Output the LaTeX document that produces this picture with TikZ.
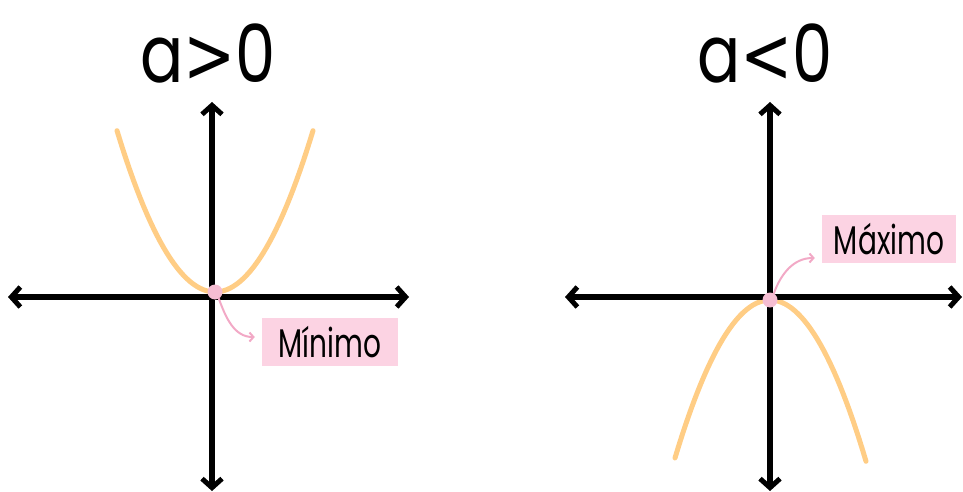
\documentclass[tikz,border=0pt]{standalone}
\usepackage{fontspec}
\usepackage{graphicx}
\setmainfont{Poppins}
\newfontfamily\symfont{DejaVu Sans}
\usetikzlibrary{arrows.meta}
\definecolor{curve}{HTML}{FFCD85}
\definecolor{pinkbox}{HTML}{FCD3E3}
\definecolor{pinkline}{HTML}{F2A9C6}
\definecolor{pinkdot}{HTML}{F5BDD2}
\tikzset{
  axtip/.tip={Straight Barb[length=9pt,width=20pt,line width=5pt]},
  axis/.style={line width=5.5pt, black, axtip-axtip},
  parab/.style={line width=5pt, curve, line cap=round},
  dotnode/.style={circle, fill=pinkdot, minimum size=15pt, inner sep=0pt},
  labelbox/.style={fill=pinkbox, inner sep=0pt, minimum height=48pt, font=\fontsize{40}{40}\selectfont},
  titlenode/.style={font=\fontsize{80}{80}\selectfont, inner sep=0pt},
  pointer/.style={pinkline, line width=2pt, line cap=round, -{Straight Barb[length=4pt,width=9pt,line width=2pt]}}
}
\begin{document}
\begin{tikzpicture}[x=1pt,y=-1pt]
\useasboundingbox (0,0) rectangle (963,492);
% left graph
\coordinate (lxl) at (8,297);
\coordinate (lxr) at (409,297);
\coordinate (lyt) at (212,102);
\coordinate (lyb) at (212,491);
\draw[parab] plot[domain=-98:98, samples=60] ({215+\x},{292-0.0168*\x*\x});
\draw[axis] (lxl) -- (lxr);
\draw[axis] (lyb) -- (lyt);
\node[dotnode] (ldot) at (215,292) {};
\node[titlenode] (ltitle) at (208,54) {\scalebox{0.8}[1]{a{\symfont\fontsize{78}{78}\selectfont >}0}};
\node[labelbox, minimum width=136pt] (lbox) at (330,342) {\scalebox{0.7}[1]{Mínimo}};
\draw[pointer] (ldot.-60) to[out=-70, in=180] ([xshift=-7pt]lbox.west |- 0,337);
% right graph
\coordinate (rxl) at (565,297);
\coordinate (rxr) at (962,297);
\coordinate (ryt) at (770,102);
\coordinate (ryb) at (770,491);
\draw[parab] plot[domain=-95:96, samples=60] ({770+\x},{300+0.0175*\x*\x});
\draw[axis] (rxl) -- (rxr);
\draw[axis] (ryb) -- (ryt);
\node[dotnode] (rdot) at (770,300) {};
\node[titlenode] (rtitle) at (765,54) {\scalebox{0.8}[1]{a{\symfont\fontsize{78}{78}\selectfont <}0}};
\node[labelbox, minimum width=134pt] (rbox) at (889,239) {\scalebox{0.7}[1]{Máximo}};
\draw[pointer] (rdot.60) to[out=70, in=180] ([xshift=-7pt]rbox.west |- 0,258);
\end{tikzpicture}
\end{document}
